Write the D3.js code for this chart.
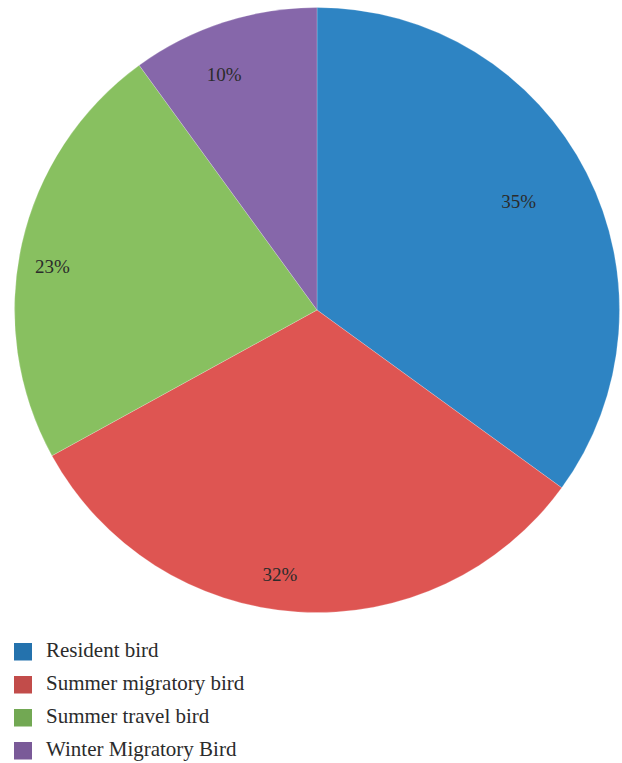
<!DOCTYPE html>
<html>
<head>
<meta charset="utf-8">
<script src="https://cdn.jsdelivr.net/npm/d3@7"></script>
<style>
  html, body { margin: 0; padding: 0; background: #ffffff; }
  svg { display: block; }
</style>
</head>
<body>
<svg id="chart" width="622" height="763"></svg>
<script>
// ---- data ----
const categories = ["Resident bird", "Summer migratory bird", "Summer travel bird", "Winter Migratory Bird"];
const values = [35, 32, 23, 10];
const labels = ["35%", "32%", "23%", "10%"];

// ---- styles / layout ----
const sliceColors = ["#2E84C3", "#DE5552", "#88C060", "#8667AA"];
const legendColors = ["#2472AD", "#C24C4A", "#72A853", "#7A5A98"];
const labelRadius = [229, 267, 268, 253];
const labelAngleShiftDeg = [-1.3, 4.4, -3.3, -3.55];

const W = 622, H = 763;
const cx = 317, cy = 310, R = 302.5;
const svg = d3.select("#chart");

const pie = d3.pie().sort(null).value(d => d);
const arcs = pie(values);
const arc = d3.arc().innerRadius(0).outerRadius(R);

const g = svg.append("g").attr("transform", `translate(${cx},${cy})`);
g.selectAll("path.slice")
  .data(arcs)
  .enter().append("path")
  .attr("class", "slice")
  .attr("d", arc)
  .attr("fill", (d, i) => sliceColors[i])
  .attr("stroke", "rgba(255,255,255,0.35)")
  .attr("stroke-width", 0.6);

g.selectAll("text.lbl")
  .data(arcs)
  .enter().append("text")
  .attr("class", "lbl")
  .attr("transform", (d, i) => {
    const a = (d.startAngle + d.endAngle) / 2 + labelAngleShiftDeg[i] * Math.PI / 180;
    const r = labelRadius[i];
    return `translate(${r * Math.sin(a)},${-r * Math.cos(a)})`;
  })
  .attr("text-anchor", "middle")
  .attr("dy", "0.35em")
  .attr("font-family", "'Liberation Serif', 'DejaVu Serif', serif")
  .attr("font-size", 19)
  .attr("fill", "#2b2b2b")
  .text((d, i) => labels[i]);

// legend
const legendY = d3.scaleBand().domain(categories).range([635.5, 767.5]).paddingInner(0).paddingOuter(0);
const lg = svg.append("g");
const rows = lg.selectAll("g.row").data(categories).enter().append("g")
  .attr("class", "row")
  .attr("transform", d => `translate(0,${legendY(d) + legendY.bandwidth() / 2})`);
rows.append("rect")
  .attr("x", 14).attr("y", -9)
  .attr("width", 18).attr("height", 17.5)
  .attr("fill", (d, i) => legendColors[i]);
rows.append("text")
  .attr("x", 46).attr("y", 5)
  .attr("font-family", "'Liberation Serif', 'DejaVu Serif', serif")
  .attr("font-size", 21)
  .attr("fill", "#2b2b2b")
  .text(d => d);
</script>
</body>
</html>
